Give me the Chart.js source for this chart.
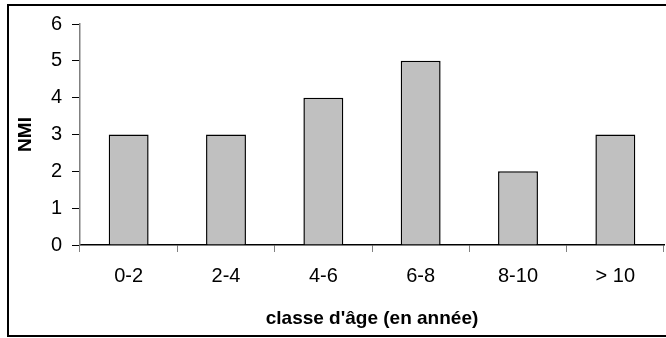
<!DOCTYPE html>
<html>
<head>
<meta charset="utf-8">
<script src="https://cdn.jsdelivr.net/npm/chart.js@4"></script>
<style>
  html, body { margin: 0; padding: 0; background: #fff; overflow: hidden; }
  #wrap { position: relative; width: 666px; height: 338px; overflow: hidden; }
  #frame { position: absolute; left: 7px; top: 4px; width: 700px; height: 329px; border: 2px solid #000; }
  canvas { position: absolute; left: 0; top: 0; }
</style>
</head>
<body>
<div id="wrap">
  <div id="frame"></div>
  <canvas id="c" width="666" height="338"></canvas>
</div>
<script>
// age classes and NMI values
const categories = ['0-2', '2-4', '4-6', '6-8', '8-10', '> 10'];
const nmiValues = [3, 3, 4, 5, 2, 3];
const yTicks = [0, 1, 2, 3, 4, 5, 6];

const FONT = "'Liberation Sans', Arial, sans-serif";

new Chart(document.getElementById('c'), {
    type: 'bar',
    data: {
        labels: categories,
        datasets: [{
            label: 'NMI',
            data: nmiValues,
            backgroundColor: '#C0C0C0',
            borderColor: '#000',
            borderWidth: 1.5,
            categoryPercentage: 1,
            barPercentage: 0.41
        }]
    },
    options: {
        responsive: false,
        animation: false,
        layout: { padding: { left: 0, right: 2, top: 24, bottom: 0 } },
        plugins: { legend: { display: false }, tooltip: { enabled: false } },
        scales: {
            x: {
                afterFit: s => { s.height = 93; },
                grid: { drawOnChartArea: false, tickLength: 7, color: '#808080', offset: true },
                border: { color: '#000', width: 1.5 },
                ticks: { color: '#000', padding: 12, font: { family: FONT, size: 20 } },
                title: {
                    display: true,
                    text: "classe d'âge (en année)",
                    color: '#000',
                    font: { family: FONT, size: 19, weight: 'bold' },
                    padding: { top: 0, bottom: 8 }
                }
            },
            y: {
                min: yTicks[0],
                max: yTicks[yTicks.length - 1],
                afterFit: s => { s.width = 80; },
                afterBuildTicks: s => { s.ticks = yTicks.map(v => ({ value: v })); },
                grid: { drawOnChartArea: false, tickLength: 8, color: '#000' },
                border: { color: '#808080', width: 1.5 },
                ticks: { color: '#000', padding: 10, font: { family: FONT, size: 20 } },
                title: {
                    display: true,
                    text: 'NMI',
                    color: '#000',
                    font: { family: FONT, size: 19, weight: 'bold' },
                    padding: { top: 14, bottom: 0 }
                }
            }
        }
    }
});
</script>
</body>
</html>
